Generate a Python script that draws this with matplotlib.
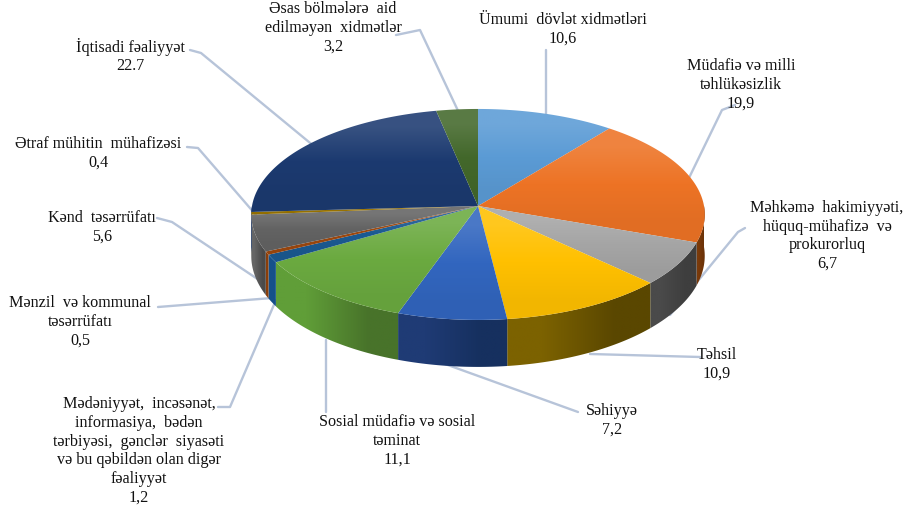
import numpy as np
import matplotlib
matplotlib.use("Agg")
import matplotlib.pyplot as plt
from matplotlib.colors import to_rgb
from matplotlib.patches import Polygon

plt.rcParams['font.family'] = ['Liberation Serif', 'DejaVu Serif']

# clockwise from 12 o'clock
categories = [
    "Ümumi  dövlət xidmətləri",
    "Müdafiə və milli\ntəhlükəsizlik",
    "Məhkəmə  hakimiyyəti,\nhüquq-mühafizə  və\nprokurorluq",
    "Təhsil",
    "Səhiyyə",
    "Sosial müdafiə və sosial\ntəminat",
    "Mədəniyyət,  incəsənət,\ninformasiya,  bədən\ntərbiyəsi,  gənclər  siyasəti\nvə bu qəbildən olan digər\nfəaliyyət",
    "Mənzil  və kommunal\ntəsərrüfatı",
    "Kənd  təsərrüfatı",
    "Ətraf mühitin  mühafizəsi",
    "İqtisadi fəaliyyət",
    "Əsas bölmələrə  aid\nedilməyən  xidmətlər",
]
values = [10.6, 19.9, 6.7, 10.9, 7.2, 11.1, 1.2, 0.5, 5.6, 0.4, 22.7, 3.2]
value_labels = ["10,6", "19,9", "6,7", "10,9", "7,2", "11,1", "1,2", "0,5", "5,6", "0,4", "22.7", "3,2"]

top_colors = ["#5B9BD5", "#ED7325", "#A5A5A5", "#FFC000", "#3266BF", "#6BAA40",
              "#1B5A92", "#9E480E", "#636363", "#997300", "#1C3A70", "#43682B"]
wall_left = ["#2E5F8C", "#7A3A0A", "#4A4A4A", "#7C6200", "#1F3B75", "#609E38",
             "#15508A", "#8A3E0A", "#666666", "#806000", "#1C3A70", "#43682B"]
wall_right = ["#2E5F8C", "#6B3208", "#3E3E3E", "#5A4700", "#16305F", "#48732A",
              "#15508A", "#8A3E0A", "#4A4A4A", "#806000", "#1C3A70", "#43682B"]

label_pos = [(563, 29), (741, 85), (827, 236), (717, 364), (612, 420), (397, 441),
             (139, 451), (80, 322), (102, 227), (98, 153), (130, 56), (333, 28)]
leaders = [
    [(546, 50), (546, 120)],
    [(735, 105), (722, 110), (688, 180)],
    [(745, 228), (738, 232), (670, 315)],
    [(700, 357), (590, 354)],
    [(578, 412), (445, 364)],
    [(326, 412), (326, 340)],
    [(218, 407), (230, 407), (276, 300)],
    [(158, 307), (272, 298)],
    [(157, 218), (172, 222), (262, 282)],
    [(187, 147), (198, 148), (256, 215)],
    [(190, 50), (201, 53), (315, 147)],
    [(396, 35), (420, 30), (460, 115)],
]

CX, CY, RX, RY, PERSP = 478, 206, 226, 104.8, 0.08


def project(angle_deg):
    # angle clockwise from the top of the disc
    a = np.radians(angle_deg)
    u, v = np.sin(a), -np.cos(a)
    w = 1 - PERSP * v
    return CX + RX * u / w, CY + RY * v / w, v


def mix(c, other, t):
    c = np.array(to_rgb(c))
    return c * (1 - t) + np.array(other) * t


fig = plt.figure(figsize=(9.08, 5.11), dpi=100)
ax = fig.add_axes([0, 0, 1, 1])
ax.set_xlim(0, 908)
ax.set_ylim(511, 0)
ax.axis('off')

for pts in leaders:
    xs, ys = zip(*pts)
    ax.plot(xs, ys, color="#B7C4D9", lw=1.7, zorder=1, solid_capstyle='round')

edges = np.cumsum([0] + values) / sum(values) * 360

# side walls, front half only
for i in range(len(values)):
    a0, a1 = max(edges[i], 90), min(edges[i + 1], 270)
    if a1 <= a0:
        continue
    xa = np.linspace(a0, a1, max(int(a1 - a0) * 2, 3))
    x, y, v = project(xa)
    d = 41 + 6 * v
    poly = np.r_[np.c_[x, y], np.c_[x[::-1], (y + d)[::-1]]]
    clip = Polygon(poly, closed=True, transform=ax.transData)
    grad = np.array([[to_rgb(wall_left[i]), to_rgb(wall_right[i])]])
    im = ax.imshow(grad, extent=(x.min() - 1, x.max() + 1, (y + d).max() + 1, y.min() - 1),
                   aspect='auto', interpolation='bilinear', zorder=2)
    im.set_clip_path(clip)

# top face with a soft vertical gradient
for i in range(len(values)):
    xa = np.linspace(edges[i], edges[i + 1], max(int(values[i] * 6), 3))
    x, y, _ = project(xa)
    px = np.r_[CX, x]
    py = np.r_[CY, y]
    clip = Polygon(np.c_[px, py], closed=True, transform=ax.transData)
    grad = np.array([[mix(top_colors[i], (1, 1, 1), 0.12)],
                     [mix(top_colors[i], (1, 1, 1), 0.0)],
                     [mix(top_colors[i], (0, 0, 0), 0.05)]])
    im = ax.imshow(grad, extent=(px.min(), px.max(), py.max(), py.min()), aspect='auto',
                   interpolation='bilinear', zorder=3 + i * 0.01)
    im.set_clip_path(clip)
ax.set_xlim(0, 908)
ax.set_ylim(511, 0)

for name, val, (lx, ly) in zip(categories, value_labels, label_pos):
    ax.text(lx, ly, f"{name}\n{val}", ha='center', va='center', fontsize=11.6,
            color="#111111", linespacing=1.22, zorder=5)

fig.savefig("out.png", dpi=100, facecolor='white')
